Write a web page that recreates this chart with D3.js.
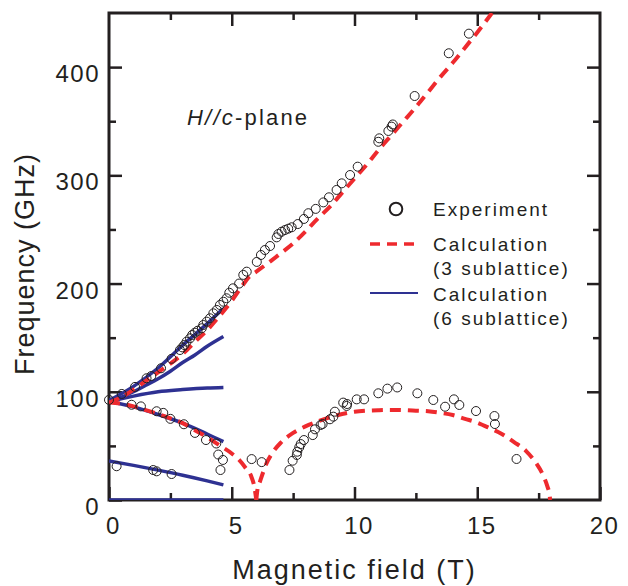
<!DOCTYPE html>
<html>
<head>
<meta charset="utf-8">
<script src="https://cdn.jsdelivr.net/npm/d3@7"></script>
<style>
body{margin:0;background:#fff;}
svg text{font-family:"Liberation Sans", Arial, Helvetica, sans-serif; fill:#231f20;}
</style>
</head>
<body>
<svg id="vis" width="628" height="586"></svg>
<script>
/**
 * Call our functions on window load event
 */
window.onload = function(){
    setup();
};

/**
 * Data: [field (T), frequency (GHz)]
 */
var experiment = [
    [0.0,92.5],[0.52,98],[1.06,104.5],[1.53,112.5],[1.72,114.5],[2.12,121.7],[2.55,130.5],
    [2.89,138.6],[2.99,141],[3.07,143.2],[3.16,146.3],[3.3,149.4],[3.39,152.5],[3.5,154.6],
    [3.61,156.4],[3.78,158.7],[3.84,161.7],[3.98,164.8],[4.11,167.9],[4.25,172.5],[4.39,175.6],
    [4.52,180.2],[4.66,183.2],[4.79,186.4],[4.9,191.5],[5.05,195.6],[5.3,200],[5.47,208],
    [5.61,211],[6.02,220],[6.19,226.4],[6.35,231],[6.56,234.7],[6.83,242.7],[6.9,245.8],
    [7.03,247.9],[7.17,249.5],[7.3,250.7],[7.44,252],[7.69,255],[7.94,259.7],[8.12,265],
    [8.42,269],[8.73,275],[8.96,279.7],[9.27,286.5],[9.48,292.6],[9.82,300.3],[10.13,308],
    [10.97,331],[11.01,334.2],[11.38,341],[11.51,345],[11.56,347],[12.45,373.3],[13.84,412.8],
    [14.66,430.9],
    //lower branch
    [0.92,88],[1.3,86.5],[1.94,82],[2.21,80.5],[2.5,75],[3.05,70],[3.5,62],[3.95,55.4],
    [4.37,52.2],[4.45,42],[4.64,37],[4.54,27.7],
    [0.31,31.2],[1.8,27.7],[1.94,26.5],[2.55,24],
    [5.81,37.8],[6.22,35],
    //dome
    [7.35,27.7],[7.48,36.3],[7.65,41.6],[7.67,44.6],[7.75,48.7],[7.81,51.7],[7.94,55.4],
    [8.3,60],[8.39,65.3],[8.62,69.3],[8.7,70.2],[9.0,74.6],[9.14,77],[9.2,81.6],[9.54,90],
    [9.68,86.9],[9.7,88.7],[10.09,93],[10.39,93],[10.97,98.6],[11.34,102.9],[11.74,104],
    [12.56,98.6],[13.21,92.4],[13.69,86.2],[14.05,93],[14.27,87.8],[14.95,82.2],[15.7,77.6],
    [15.72,70.2],[16.6,37.9]
];

//3 sublattice calculation (red dashed)
var calc3Upper = [
    [0,90],[0.5,95],[1,102],[1.5,110],[2,118],[2.5,126],[3,135],[3.5,146],[4,157],[4.5,170],
    [5,184],[5.4,197],[5.7,206],[6.0,211],[6.3,216],[6.6,221],[7,228],[7.5,237],[8,248],
    [8.5,260],[9,271],[9.5,284],[10,297],[10.5,310],[11,324],[11.5,337],[12,350],[12.5,363],
    [13,377],[13.5,391],[14,404],[14.5,418],[15,432],[15.6,450]
];
var calc3Lower = [
    [0,90],[0.5,89],[1,86.5],[1.5,83],[2,79.5],[2.5,75.5],[3,71],[3.5,64.5],[4,58],[4.5,50.5],
    [5,43],[5.3,37],[5.55,30],[5.8,21.5],[5.93,11],[6.0,0]
];
var calc3Dome = [
    [6.0,0],[6.05,10],[6.15,17],[6.4,33],[6.7,45],[7,53],[7.5,62],[8,68],[8.5,72.5],[9,76.5],
    [9.5,79.5],[10,81.5],[10.5,82.5],[11,83],[11.5,83.2],[12,83],[12.5,82.5],[13,82],
    [13.5,80.5],[14,78.5],[14.5,75],[15,71.5],[15.5,66.5],[16,61],[16.5,53.5],[17,45],
    [17.4,34],[17.7,22],[17.85,13],[17.95,4],[17.97,0]
];

//6 sublattice calculation (blue solid)
var calc6Top  = [[0,92],[1,105],[2,122],[3,143],[4,163],[4.66,177]];
var calc6Up   = [[0,92],[0.5,95],[1,100],[1.5,106],[2,112],[2.5,119],[3,127],[3.5,134],[4,142],[4.66,151]];
var calc6Flat = [[0,91],[1,96],[2,100],[3,102],[4,103.5],[4.66,104]];
var calc6Down = [[0,91],[1,86],[2,79],[3,71],[4,61],[4.66,54]];
var calc6Low  = [[0,36],[1,32],[2,27.6],[3,22.9],[4,17.7],[4.66,14]];
var calc6Zero = [[0,0],[4.66,0]];

var xMajorTicks = [0,5,10,15,20];
var xMinorTicks = [2.5,7.5,12.5,17.5];
var yMajorTicks = [0,100,200,300,400];
var yMinorTicks = [50,150,250,350];

var legendLabels = ["Experiment","Calculation","(3 sublattice)","Calculation","(6 sublattice)"];

const BOX = { left:109, right:600, top:13, bottom:500 };
const RED = "#ee2a2e";
const BLUE = "#2e3192";
const INK = "#231f20";

var svg, xScale, yScale;

function setup(){
    svg = d3.select("#vis");
    xScale = d3.scaleLinear().domain([0,20]).range([BOX.left, BOX.right]);
    yScale = d3.scaleLinear().domain([0,450]).range([BOX.bottom, BOX.top]);

    svg.append("clipPath").attr("id","plotclip")
        .append("rect")
        .attr("x", BOX.left).attr("y", BOX.top)
        .attr("width", BOX.right-BOX.left).attr("height", BOX.bottom-BOX.top);

    drawAxes();
    drawLines();
    drawPoints();
    drawLabels();
    drawLegend();
}

function tidy(g){
    g.select(".domain").remove();
    g.selectAll(".tick line").attr("stroke", INK).attr("stroke-width", 2.5);
}

function drawAxes(){
    //bottom, labelled
    var bx = svg.append("g").attr("transform", `translate(0, ${BOX.bottom})`)
        .call(d3.axisBottom(xScale).tickValues(xMajorTicks).tickSize(-13).tickPadding(17).tickFormat(d3.format("d")))
        .call(tidy);
    bx.selectAll("text").attr("font-size", 24).attr("letter-spacing", "1.5px").attr("dx", 4).attr("fill", INK);
    svg.append("g").attr("transform", `translate(0, ${BOX.bottom})`)
        .call(d3.axisBottom(xScale).tickValues(xMinorTicks).tickSize(-7).tickFormat(""))
        .call(tidy);

    //left, labelled
    var ly = svg.append("g").attr("transform", `translate(${BOX.left}, 0)`)
        .call(d3.axisLeft(yScale).tickValues(yMajorTicks).tickSize(-13).tickPadding(9).tickFormat(d3.format("d")))
        .call(tidy);
    ly.selectAll("text").attr("font-size", 24).attr("letter-spacing", "1.5px").attr("dy", 14.5).attr("fill", INK);
    svg.append("g").attr("transform", `translate(${BOX.left}, 0)`)
        .call(d3.axisLeft(yScale).tickValues(yMinorTicks).tickSize(-7).tickFormat(""))
        .call(tidy);

    //top and right, ticks only
    svg.append("g").attr("transform", `translate(0, ${BOX.top})`)
        .call(d3.axisTop(xScale).tickValues(xMajorTicks.slice(1,-1)).tickSize(-13).tickFormat(""))
        .call(tidy);
    svg.append("g").attr("transform", `translate(0, ${BOX.top})`)
        .call(d3.axisTop(xScale).tickValues(xMinorTicks).tickSize(-7).tickFormat(""))
        .call(tidy);
    svg.append("g").attr("transform", `translate(${BOX.right}, 0)`)
        .call(d3.axisRight(yScale).tickValues(yMajorTicks.slice(1)).tickSize(-13).tickFormat(""))
        .call(tidy);
    svg.append("g").attr("transform", `translate(${BOX.right}, 0)`)
        .call(d3.axisRight(yScale).tickValues(yMinorTicks).tickSize(-7).tickFormat(""))
        .call(tidy);

    //frame
    svg.append("rect")
        .attr("x", BOX.left).attr("y", BOX.top)
        .attr("width", BOX.right-BOX.left).attr("height", BOX.bottom-BOX.top)
        .attr("fill", "none").attr("stroke", INK).attr("stroke-width", 3);
}

function drawLines(){
    var line = d3.line()
        .x(function(d){ return xScale(d[0]); })
        .y(function(d){ return yScale(d[1]); })
        .curve(d3.curveMonotoneX);

    var plot = svg.append("g").attr("clip-path", "url(#plotclip)");

    [calc6Top, calc6Up, calc6Flat, calc6Down, calc6Low, calc6Zero].forEach(function(s){
        plot.append("path").datum(s)
            .attr("d", line)
            .attr("fill", "none")
            .attr("stroke", BLUE)
            .attr("stroke-width", 3.5);
    });

    [calc3Upper, calc3Lower, calc3Dome].forEach(function(s){
        plot.append("path").datum(s)
            .attr("d", line)
            .attr("fill", "none")
            .attr("stroke", RED)
            .attr("stroke-width", 4)
            .attr("stroke-dasharray", "11,7");
    });
}

function drawPoints(){
    svg.append("g").selectAll("circle")
        .data(experiment)
        .enter()
        .append("circle")
        .attr("cx", function(d){ return xScale(d[0]); })
        .attr("cy", function(d){ return yScale(d[1]); })
        .attr("r", 4.5)
        .attr("fill", "none")
        .attr("stroke", INK)
        .attr("stroke-width", 1);
}

function drawLabels(){
    //x-axis label
    svg.append("text")
        .attr("x", (BOX.left+BOX.right)/2)
        .attr("y", 579)
        .attr("font-size", 27)
        .attr("letter-spacing", "2px")
        .style("text-anchor", "middle")
        .text("Magnetic field (T)");

    //y-axis label
    svg.append("text")
        .attr("transform", "translate(34, 264) rotate(-90)")
        .attr("font-size", 27)
        .attr("letter-spacing", "1px")
        .style("text-anchor", "middle")
        .text("Frequency (GHz)");

    var t = svg.append("text")
        .attr("x", 187)
        .attr("y", 125)
        .attr("font-size", 22)
        .attr("letter-spacing", "2.2px");
    t.append("tspan").style("font-style", "italic").text("H//c");
    t.append("tspan").text("-plane");
}

function drawLegend(){
    var lg = svg.append("g");
    lg.append("circle")
        .attr("cx", 396).attr("cy", 209).attr("r", 6.3)
        .attr("fill", "none").attr("stroke", INK).attr("stroke-width", 2);
    lg.append("line")
        .attr("x1", 370).attr("x2", 418).attr("y1", 244).attr("y2", 244)
        .attr("stroke", RED).attr("stroke-width", 3.3).attr("stroke-dasharray", "10,7");
    lg.append("line")
        .attr("x1", 370).attr("x2", 418).attr("y1", 293).attr("y2", 293)
        .attr("stroke", BLUE).attr("stroke-width", 2);

    var baselines = [216, 251, 275, 301, 325];
    lg.selectAll("text.lab")
        .data(legendLabels)
        .enter()
        .append("text")
        .attr("class", "lab")
        .attr("x", 433)
        .attr("y", function(d, i){ return baselines[i]; })
        .attr("font-size", 19)
        .attr("letter-spacing", "2px")
        .text(function(d){ return d; });
}
</script>
</body>
</html>
